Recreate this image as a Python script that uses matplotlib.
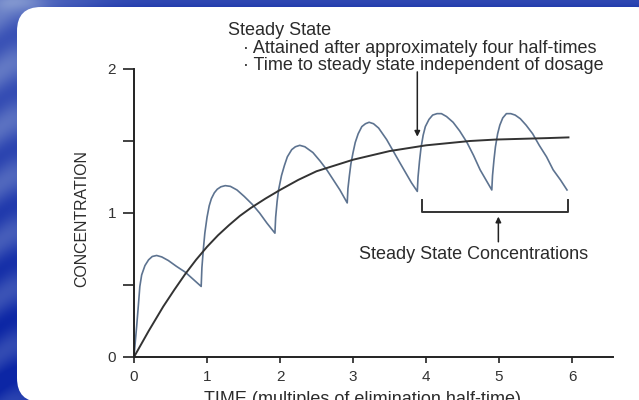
import numpy as np
import matplotlib.pyplot as plt
from matplotlib.patches import FancyBboxPatch

plt.rcParams["font.family"] = ["Liberation Sans", "DejaVu Sans"]

# Datos (tiempo en vidas medias, concentracion)
dose_t = [0.0, 0.02, 0.036, 0.06, 0.08, 0.105, 0.15, 0.20, 0.25, 0.31, 0.38,
          0.47, 0.58, 0.70, 0.81, 0.92,
          0.93, 0.95, 0.97, 1.0, 1.03, 1.06, 1.10, 1.14, 1.19, 1.25, 1.32,
          1.41, 1.51, 1.62, 1.72, 1.82, 1.93,
          1.94, 1.96, 1.98, 2.02, 2.06, 2.10, 2.16, 2.21, 2.27, 2.34, 2.45,
          2.55, 2.64, 2.73, 2.82, 2.92,
          2.93, 2.95, 2.97, 3.0, 3.03, 3.07, 3.12, 3.17, 3.22, 3.28, 3.35,
          3.46, 3.55, 3.64, 3.72, 3.80, 3.88,
          3.89, 3.91, 3.93, 3.96, 3.99, 4.04, 4.09, 4.15, 4.21, 4.28, 4.37,
          4.46, 4.56, 4.65, 4.74, 4.82, 4.90,
          4.91, 4.93, 4.95, 4.98, 5.01, 5.05, 5.10, 5.16, 5.22, 5.29, 5.37,
          5.46, 5.55, 5.65, 5.74, 5.84, 5.93]
dose_c = [0.0, 0.12, 0.21, 0.36, 0.49, 0.57, 0.635, 0.675, 0.698, 0.705,
          0.695, 0.67, 0.63, 0.59, 0.54, 0.49,
          0.62, 0.75, 0.86, 0.97, 1.05, 1.10, 1.14, 1.165, 1.182, 1.19,
          1.185, 1.16, 1.115, 1.06, 1.0, 0.93, 0.86,
          0.97, 1.08, 1.16, 1.26, 1.33, 1.39, 1.44, 1.46, 1.47, 1.46, 1.42,
          1.36, 1.30, 1.23, 1.16, 1.07,
          1.17, 1.26, 1.34, 1.42, 1.49, 1.55, 1.60, 1.62, 1.63, 1.62, 1.59,
          1.51, 1.43, 1.35, 1.28, 1.21, 1.15,
          1.25, 1.36, 1.45, 1.54, 1.60, 1.65, 1.68, 1.69, 1.69, 1.67, 1.63,
          1.57, 1.49, 1.40, 1.30, 1.23, 1.16,
          1.26, 1.37, 1.46, 1.55, 1.61, 1.66, 1.69, 1.69, 1.68, 1.655, 1.61,
          1.55, 1.47, 1.39, 1.30, 1.23, 1.16]

avg_t = [0.0, 0.2, 0.4, 0.55, 0.7, 0.85, 1.0, 1.15, 1.3, 1.45, 1.6, 1.8, 2.0,
         2.25, 2.5, 2.75, 3.0, 3.25, 3.5, 3.75, 4.0, 4.3, 4.6, 4.95, 5.3,
         5.65, 5.95]
avg_c = [0.0, 0.18, 0.35, 0.465, 0.575, 0.675, 0.765, 0.845, 0.915, 0.98,
         1.035, 1.10, 1.16, 1.23, 1.29, 1.33, 1.37, 1.40, 1.43, 1.45, 1.47,
         1.485, 1.50, 1.51, 1.515, 1.52, 1.525]

x_ticks = [0, 1, 2, 3, 4, 5, 6]
y_ticks = [0, 0.5, 1, 1.5, 2]
y_labels = ["0", "", "1", "", "2"]

W, H = 639, 400
fig = plt.figure(figsize=(W / 100, H / 100), dpi=100)

# fondo azul con textura
bg = fig.add_axes([0, 0, 1, 1])
yy, xx = np.mgrid[0:H, 0:W]
light = np.exp(-((xx / 70.0) ** 2)) * 0.5 * np.exp(-(yy / 300.0) ** 2)
light += np.exp(-((yy / 10.0) ** 2)) * 0.25
light += 0.15 * np.sin(yy / 9.0 + np.sin(xx / 13.0)) * np.exp(-(xx / 60.0) ** 2)
light = np.clip(light, 0, 1)
dark = np.array([12, 38, 165]) / 255.0
pale = np.array([150, 170, 215]) / 255.0
img = dark[None, None, :] * (1 - light[..., None]) + pale[None, None, :] * light[..., None]
bg.imshow(img, extent=[0, W, H, 0], aspect="auto")
bg.set_xlim(0, W)
bg.set_ylim(H, 0)
bg.axis("off")
panel = FancyBboxPatch((17 + 24, 7 + 24), 660 - 17 - 48, 402 - 7 - 48,
                       boxstyle="round,pad=24", fc="white", ec="none")
bg.add_patch(panel)

ax = fig.add_axes([134 / W, 43 / H, 479 / W, 288 / H])
ax.patch.set_alpha(0)
ax.plot(dose_t, dose_c, color="#5d7390", lw=1.2, solid_joinstyle="round")
ax.plot(avg_t, avg_c, color="#333333", lw=1.4, solid_joinstyle="round")

ax.set_xlim(0, 6.56)
ax.set_ylim(0, 2)
for s in ["top", "right"]:
    ax.spines[s].set_visible(False)
for s in ["left", "bottom"]:
    ax.spines[s].set_linewidth(1.4)
    ax.spines[s].set_color("#222222")
ax.set_xticks(x_ticks)
ax.set_xticklabels([str(v) for v in x_ticks])
ax.set_yticks(y_ticks)
ax.set_yticklabels(y_labels)
ax.tick_params(axis="y", length=8, width=1.2, color="#222222", pad=5,
               labelsize=11, labelcolor="#333333")
ax.tick_params(axis="x", length=4.5, width=1.2, color="#222222", pad=5,
               labelsize=11, labelcolor="#333333")

# anotaciones
ax.annotate("", xy=(3.88, 1.53), xytext=(3.88, 1.98),
            arrowprops=dict(arrowstyle="-|>", lw=1.1, color="#222222",
                            mutation_scale=8, shrinkA=0, shrinkB=0))
ax.plot([3.95, 3.95, 5.95, 5.95], [1.09, 1.007, 1.007, 1.09],
        color="#333333", lw=1.4)
ax.annotate("", xy=(4.99, 0.975), xytext=(4.99, 0.80),
            arrowprops=dict(arrowstyle="-|>", lw=1.1, color="#222222",
                            mutation_scale=8, shrinkA=0, shrinkB=0))

txt = dict(color="#2b2b2b", fontsize=13)
fig.text(228 / W, (H - 35) / H, "Steady State", va="baseline", **txt)
fig.text(243 / W, (H - 53) / H, "\u00b7 Attained after approximately four half-times",
         va="baseline", **txt)
fig.text(243 / W, (H - 70) / H, "\u00b7 Time to steady state independent of dosage",
         va="baseline", **txt)
fig.text(359 / W, (H - 259) / H, "Steady State Concentrations", va="baseline", **txt)
fig.text(362 / W, (H - 404) / H, "TIME (multiples of elimination half-time)",
         ha="center", va="baseline", **txt)
fig.text(82 / W, (H - 219) / H, "CONCENTRATION", rotation=90, ha="center",
         va="center", color="#2b2b2b", fontsize=11.4)

fig.savefig("out.png", dpi=100)
